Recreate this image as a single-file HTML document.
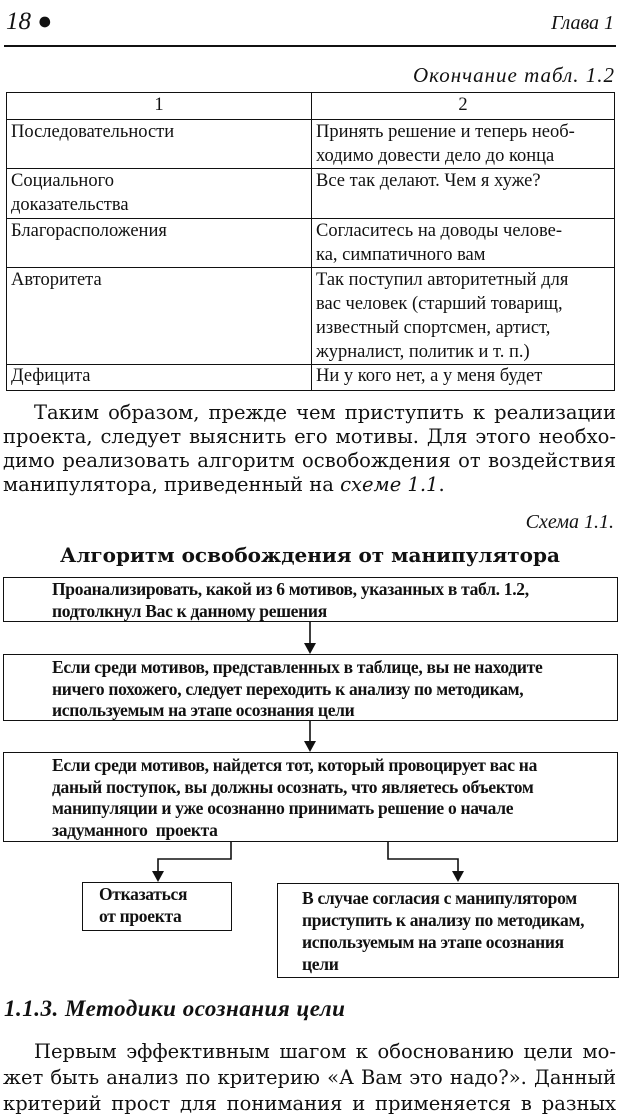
<!DOCTYPE html>
<html><head><meta charset="utf-8"><style>
body{margin:0;width:620px;height:1119px;background:#fff;position:relative;overflow:hidden;font-family:"Liberation Serif","DejaVu Serif",serif;color:#111}
.a{position:absolute}
.ln{position:absolute;left:0;width:613px;font-family:"DejaVu Serif",serif;font-size:19.5px;line-height:24px;text-align:justify;text-align-last:justify;white-space:nowrap}
table{position:absolute;left:6px;top:92px;width:609px;border-collapse:collapse;font-size:18.5px;line-height:24px}
td{border:1.5px solid #111;vertical-align:top;padding:0 4px}
.box{position:absolute;border:1.6px solid #111;font-size:17.5px;line-height:21.5px;box-sizing:border-box;font-weight:bold;letter-spacing:-0.3px;white-space:nowrap}
</style></head><body>
<div class="a" style="left:6px;top:8px;font-size:25px;font-style:italic">18 <span style="font-style:normal">●</span></div>
<div class="a" style="right:6px;top:12px;font-size:20px;font-style:italic">Глава 1</div>
<div class="a" style="left:4px;top:45px;width:612px;height:1.5px;background:#111"></div>
<div class="a" style="right:5px;top:63px;font-size:21px;font-style:italic;letter-spacing:1px">Окончание табл. 1.2</div>
<table>
<tr style="height:27px"><td style="width:296px;text-align:center">1</td><td style="text-align:center">2</td></tr>
<tr style="height:47px"><td>Последовательности</td><td>Принять решение и теперь необ-<br>ходимо довести дело до конца</td></tr>
<tr style="height:50px"><td>Социального<br>доказательства</td><td>Все так делают. Чем я хуже?</td></tr>
<tr style="height:49px"><td>Благорасположения</td><td>Согласитесь на доводы челове-<br>ка, симпатичного вам</td></tr>
<tr style="height:94px"><td>Авторитета</td><td>Так поступил авторитетный для<br>вас человек (старший товарищ,<br>известный спортсмен, артист,<br>журналист, политик и т. п.)</td></tr>
<tr style="height:26px"><td style="line-height:22px">Дефицита</td><td style="line-height:22px">Ни у кого нет, а у меня будет</td></tr>
</table>
<div class="ln" style="top:401px;left:34px;width:582px">Таким образом, прежде чем приступить к реализации</div>
<div class="ln" style="top:425px;left:3px">проекта, следует выяснить его мотивы. Для этого необхо-</div>
<div class="ln" style="top:449px;left:3px">димо реализовать алгоритм освобождения от воздействия</div>
<div class="a" style="top:473px;left:3px;font-size:19.5px;line-height:24px;font-family:'DejaVu Serif',serif">манипулятора, приведенный на <i>схеме 1.1</i>.</div>
<div class="a" style="right:6px;top:511px;font-size:20px;font-style:italic">Схема 1.1.</div>
<div class="a" style="left:0;width:620px;text-align:center;top:543px;font-size:20px;font-weight:bold;line-height:24px;font-family:'DejaVu Serif',serif">Алгоритм освобождения от манипулятора</div>
<div class="box" style="left:3px;top:577px;width:615px;height:45px;padding:1px 0 0 48px">Проанализировать, какой из 6 мотивов, указанных в табл. 1.2,<br>подтолкнул Вас к данному решения</div>
<div class="box" style="left:3px;top:654px;width:615px;height:67px;padding:2px 0 0 48px">Если среди мотивов, представленных в таблице, вы не находите<br>ничего похожего, следует переходить к анализу по методикам,<br>используемым на этапе осознания цели</div>
<div class="box" style="left:3px;top:752px;width:615px;height:90px;padding:2px 0 0 48px">Если среди мотивов, найдется тот, который провоцирует вас на<br>даный поступок, вы должны осознать, что являетесь объектом<br>манипуляции и уже осознанно принимать решение о начале<br>задуманного&nbsp; проекта</div>
<div class="box" style="left:82px;top:882px;width:150px;height:49px;padding:1px 0 0 16px">Отказаться<br>от проекта</div>
<div class="box" style="left:277px;top:883px;width:342px;height:95px;padding:3px 0 0 24px;line-height:22px">В случае согласия с манипулятором<br>приступить к анализу по методикам,<br>используемым на этапе осознания<br>цели</div>
<svg class="a" style="left:0;top:0" width="620" height="1119">
<g stroke="#111" stroke-width="1.6" fill="none">
<path d="M310 622V644M310 721V742M231 842V859H158V873M388 842V859H458V873"/>
</g>
<g fill="#111">
<path d="M304 643h12l-6 11z"/><path d="M304 741h12l-6 11z"/>
<path d="M152 871h12l-6 11z"/><path d="M452 871h12l-6 11z"/>
</g>
</svg>
<div class="a" style="left:4px;top:996px;font-size:23px;font-weight:bold;font-style:italic;letter-spacing:0.5px">1.1.3. Методики осознания цели</div>
<div class="ln" style="top:1040px;left:34px;width:582px">Первым эффективным шагом к обоснованию цели мо-</div>
<div class="ln" style="top:1066px;left:3px">жет быть анализ по критерию «А Вам это надо?». Данный</div>
<div class="ln" style="top:1092px;left:3px">критерий прост для понимания и применяется в разных</div>
</body></html>
